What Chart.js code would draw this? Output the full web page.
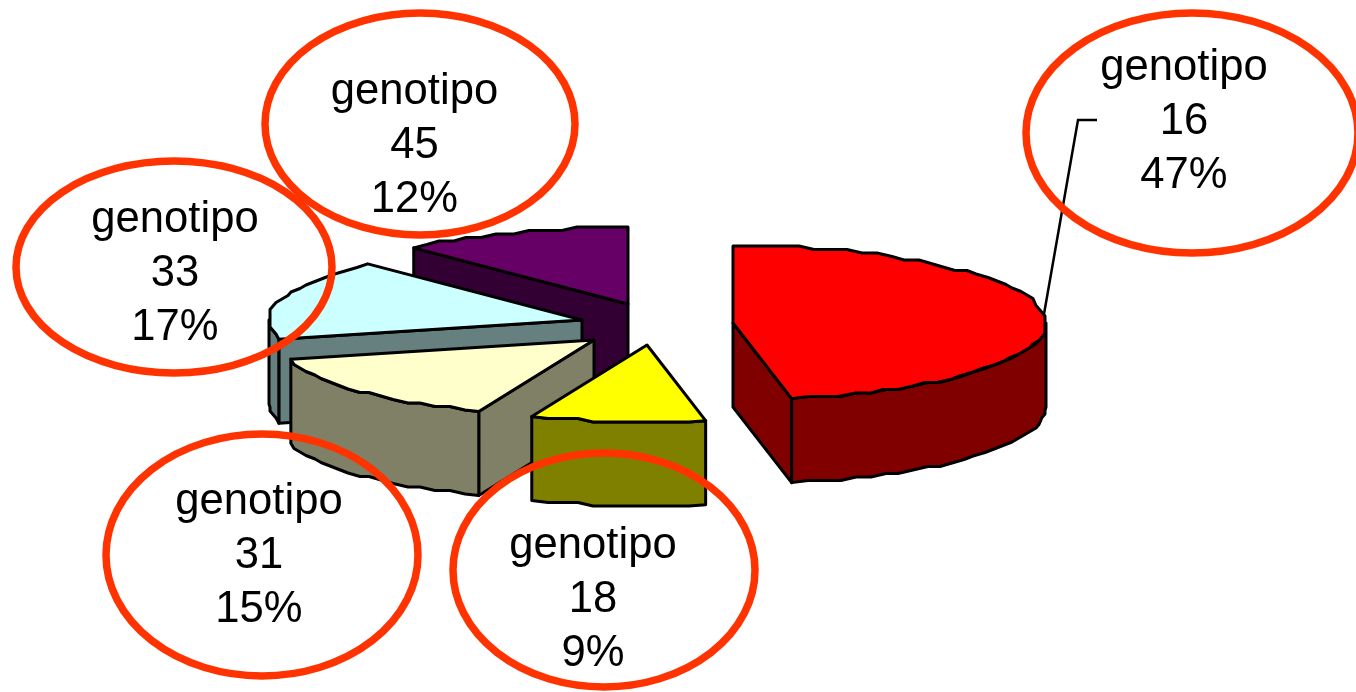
<!DOCTYPE html>
<html>
<head>
<meta charset="utf-8">
<title>genotipo</title>
<script src="https://cdn.jsdelivr.net/npm/chart.js@4"></script>
<style>
  html, body { margin: 0; padding: 0; background: #fff; overflow: hidden; }
  canvas { display: block; }
</style>
</head>
<body>
<canvas id="pie" width="1356" height="692"></canvas>
<script>
// ── DATA ──
const seriesName = 'genotipo';
const genotypes = ['16', '18', '31', '33', '45'];
const shares = [47, 9, 15, 17, 12];

// ── STYLES ──
const topColors = ['#ff0000', '#ffff00', '#ffffcc', '#ccffff', '#660066'];
const wallColors = ['#800000', '#808000', '#808066', '#668080', '#330033'];
// where each pulled-out wedge has its tip
const tipX = [733, 647, 594, 582, 628];
const tipY = [323, 345, 340, 320, 304];
const squash = 0.246;
const depth = 84;
const rimStep = 3 * Math.PI / 180;
const rimGridX = 3;
const rimGridY = 3.5;

// callouts: ellipse centre + radii, then text centre + first baseline
const ringX = [1192, 604, 262, 174, 420];
const ringY = [133, 570, 555, 267, 124];
const ringRx = [166, 151, 156, 158, 155];
const ringRy = [120, 117, 121, 106, 111];
const textX = [1184, 593, 259, 175, 414.5];
const textY = [80, 558, 514, 232, 104];
const lineGap = 54;

// outline of the wedge rim, snapped to a coarse grid like an old metafile
function rimPoints(i, radius, from, to) {
    const pts = [];
    const n = Math.max(1, Math.round((to - from) / rimStep));
    for (let k = 0; k <= n; k++) {
        const a = from + (to - from) * k / n;
        let x = radius * Math.sin(a);
        let y = -radius * squash * Math.cos(a);
        if (k > 0 && k < n) {
            x = Math.round(x / rimGridX) * rimGridX;
            y = Math.round(y / rimGridY) * rimGridY;
        }
        pts.push([tipX[i] + x, tipY[i] + y]);
    }
    return pts;
}

function poly(ctx, pts, fill) {
    ctx.beginPath();
    pts.forEach((p, k) => k ? ctx.lineTo(p[0], p[1]) : ctx.moveTo(p[0], p[1]));
    ctx.closePath();
    ctx.fillStyle = fill;
    ctx.fill();
    ctx.stroke();
}

function radialWall(ctx, i, radius, a) {
    const x = tipX[i] + radius * Math.sin(a);
    const y = tipY[i] - radius * squash * Math.cos(a);
    poly(ctx, [[tipX[i], tipY[i]], [x, y], [x, y + depth], [tipX[i], tipY[i] + depth]], wallColors[i]);
}

function drawWedge(ctx, arc, i) {
    const { startAngle, endAngle, outerRadius } = arc.getProps(['startAngle', 'endAngle', 'outerRadius'], true);
    // chart angles start at east, the projection counts clockwise from north
    const a0 = startAngle + Math.PI / 2;
    const a1 = endAngle + Math.PI / 2;

    if (Math.sin(a0) < -0.001) radialWall(ctx, i, outerRadius, a0);
    if (Math.sin(a1) > 0.001) radialWall(ctx, i, outerRadius, a1);

    const from = Math.max(a0, Math.PI / 2);
    const to = Math.min(a1, Math.PI * 1.5);
    if (to > from) {
        const upper = rimPoints(i, outerRadius, from, to);
        const lower = upper.map(p => [p[0], p[1] + depth]).reverse();
        poly(ctx, upper.concat(lower), wallColors[i]);
    }

    const rim = rimPoints(i, outerRadius, a0, a1);
    poly(ctx, [[tipX[i], tipY[i]]].concat(rim), topColors[i]);
}

const wedges3d = {
    id: 'wedges3d',
    beforeDatasetDraw(chart, args) {
        const ctx = chart.ctx;
        const arcs = args.meta.data;
        ctx.save();
        ctx.strokeStyle = '#000';
        ctx.lineWidth = 3;
        ctx.lineJoin = 'round';
        // back to front
        for (let i = arcs.length - 1; i >= 0; i--) drawWedge(ctx, arcs[i], i);
        ctx.restore();
        return false;
    },
    afterDatasetsDraw(chart) {
        const ctx = chart.ctx;
        ctx.save();

        // leader from the big wedge to its label
        ctx.strokeStyle = '#000';
        ctx.lineWidth = 2.5;
        ctx.beginPath();
        ctx.moveTo(1097, 120);
        ctx.lineTo(1078, 120);
        ctx.lineTo(1044, 314);
        ctx.stroke();

        ctx.font = '43.6px "Liberation Sans", Arial, sans-serif';
        ctx.textAlign = 'center';
        ctx.fillStyle = '#000';
        genotypes.forEach((g, i) => {
            ctx.fillText(seriesName, textX[i], textY[i]);
            ctx.fillText(g, textX[i], textY[i] + lineGap);
            ctx.fillText(shares[i] + '%', textX[i], textY[i] + lineGap * 2);
        });

        ctx.strokeStyle = '#ff3300';
        ctx.lineWidth = 7.5;
        ringX.forEach((x, i) => {
            ctx.beginPath();
            ctx.ellipse(x, ringY[i], ringRx[i], ringRy[i], 0, 0, Math.PI * 2);
            ctx.stroke();
        });
        ctx.restore();
    }
};

new Chart(document.getElementById('pie'), {
    type: 'pie',
    data: {
        labels: genotypes.map(g => seriesName + ' ' + g),
        datasets: [{
            data: shares,
            backgroundColor: topColors,
            radius: 313
        }]
    },
    options: {
        responsive: false,
        animation: false,
        layout: { padding: 0 },
        plugins: { legend: { display: false }, tooltip: { enabled: false } }
    },
    plugins: [wedges3d]
});
</script>
</body>
</html>
